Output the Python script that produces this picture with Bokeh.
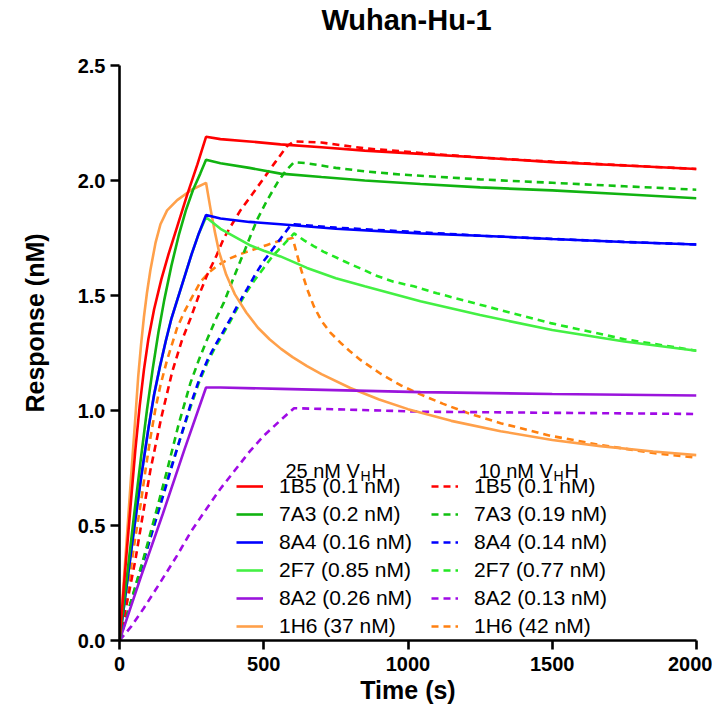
from bokeh.plotting import figure
from bokeh.models import Range1d, FixedTicker, Legend, LegendItem, Label
from bokeh.embed import file_html
from bokeh.resources import INLINE

# ---------------- data ----------------
title_text = "Wuhan-Hu-1"
x_label = "Time (s)"
y_label = "Response (nM)"
x_ticks = [0, 500, 1000, 1500, 2000]
y_ticks = [0.0, 0.5, 1.0, 1.5, 2.0, 2.5]
y_tick_labels = ["0.0", "0.5", "1.0", "1.5", "2.0", "2.5"]

names = ["1B5", "7A3", "8A4", "2F7", "8A2", "1H6"]
kd_25 = ["0.1 nM", "0.2 nM", "0.16 nM", "0.85 nM", "0.26 nM", "37 nM"]
kd_10 = ["0.1 nM", "0.19 nM", "0.14 nM", "0.77 nM", "0.13 nM", "42 nM"]
header_conc = ["25 nM V", "10 nM V"]
header_sub = "H"
header_tail = "H"

# 25 nM VHH (solid)
t_1B5_25 = [0, 20, 40, 55, 70, 85, 100, 120, 145, 170, 200, 235, 270, 300, 350, 450, 558, 700, 850, 1043, 1250, 1500, 1750, 2000]
r_1B5_25 = [0, 0.31, 0.61, 0.83, 1.02, 1.18, 1.31, 1.44, 1.57, 1.68, 1.80, 1.94, 2.07, 2.19, 2.18, 2.17, 2.157, 2.145, 2.13, 2.116, 2.10, 2.08, 2.065, 2.05]

t_7A3_25 = [0, 25, 50, 75, 95, 115, 135, 155, 180, 205, 230, 255, 280, 300, 350, 450, 558, 700, 850, 1043, 1250, 1500, 1750, 2000]
r_7A3_25 = [0, 0.27, 0.54, 0.80, 1.00, 1.18, 1.34, 1.48, 1.63, 1.76, 1.87, 1.96, 2.03, 2.09, 2.075, 2.055, 2.03, 2.015, 2.0, 1.985, 1.97, 1.957, 1.94, 1.923]

t_8A4_25 = [0, 25, 50, 75, 100, 120, 140, 160, 180, 200, 225, 250, 275, 300, 350, 450, 558, 750, 1043, 1250, 1500, 1750, 2000]
r_8A4_25 = [0, 0.24, 0.48, 0.71, 0.92, 1.07, 1.19, 1.30, 1.40, 1.48, 1.58, 1.68, 1.77, 1.85, 1.835, 1.82, 1.81, 1.79, 1.77, 1.76, 1.746, 1.733, 1.722]

t_2F7_25 = [0, 25, 50, 75, 100, 120, 140, 160, 180, 200, 225, 250, 275, 300, 350, 400, 450, 500, 558, 650, 750, 850, 1043, 1250, 1500, 1750, 2000]
r_2F7_25 = [0, 0.24, 0.48, 0.71, 0.92, 1.07, 1.19, 1.30, 1.40, 1.48, 1.58, 1.68, 1.77, 1.84, 1.79, 1.755, 1.72, 1.695, 1.67, 1.62, 1.575, 1.54, 1.475, 1.415, 1.35, 1.30, 1.26]

t_8A2_25 = [0, 75, 150, 225, 300, 350, 558, 1043, 1500, 2000]
r_8A2_25 = [0, 0.28, 0.55, 0.83, 1.10, 1.10, 1.094, 1.08, 1.072, 1.065]

t_1H6_25 = [0, 20, 40, 55, 65, 75, 85, 95, 107, 125, 142, 165, 200, 250, 300, 315, 330, 345, 370, 400, 440, 480, 520, 560, 600, 650, 700, 800, 900, 1000, 1150, 1321, 1500, 1667, 1850, 2000]
r_1H6_25 = [0, 0.35, 0.71, 0.97, 1.15, 1.29, 1.41, 1.51, 1.61, 1.73, 1.81, 1.87, 1.915, 1.96, 1.99, 1.88, 1.78, 1.69, 1.59, 1.505, 1.425, 1.36, 1.31, 1.268, 1.232, 1.193, 1.158, 1.098, 1.048, 1.006, 0.955, 0.91, 0.872, 0.845, 0.822, 0.806]

# 10 nM VHH (dashed)
t_1B5_10 = [0, 30, 55, 80, 107, 145, 183, 215, 246, 275, 304, 335, 362, 390, 419, 460, 500, 540, 581, 605, 700, 850, 1043, 1250, 1500, 1750, 2000]
r_1B5_10 = [0, 0.19, 0.35, 0.54, 0.74, 0.97, 1.17, 1.30, 1.40, 1.50, 1.59, 1.67, 1.75, 1.81, 1.87, 1.94, 2.01, 2.08, 2.15, 2.17, 2.165, 2.14, 2.12, 2.10, 2.082, 2.066, 2.05]

t_7A3_10 = [0, 40, 84, 125, 165, 205, 246, 275, 304, 335, 362, 390, 419, 448, 477, 510, 547, 575, 605, 650, 750, 850, 974, 1250, 1500, 1750, 2000]
r_7A3_10 = [0, 0.17, 0.36, 0.55, 0.74, 0.94, 1.12, 1.22, 1.31, 1.40, 1.47, 1.56, 1.65, 1.74, 1.83, 1.91, 1.99, 2.04, 2.08, 2.075, 2.055, 2.04, 2.026, 2.005, 1.99, 1.975, 1.96]

t_8A4_10 = [0, 40, 73, 107, 142, 175, 211, 245, 275, 305, 330, 358, 385, 415, 443, 470, 500, 530, 560, 590, 605, 750, 1043, 1250, 1500, 1750, 2000]
r_8A4_10 = [0, 0.165, 0.30, 0.445, 0.59, 0.73, 0.88, 1.02, 1.13, 1.22, 1.28, 1.34, 1.40, 1.47, 1.53, 1.59, 1.65, 1.70, 1.75, 1.80, 1.81, 1.795, 1.775, 1.76, 1.746, 1.733, 1.722]

t_2F7_10 = [0, 40, 73, 107, 142, 175, 211, 245, 275, 305, 330, 358, 385, 415, 443, 470, 500, 530, 560, 590, 605, 640, 673, 708, 743, 777, 812, 850, 882, 950, 1020, 1100, 1250, 1494, 1750, 2000]
r_2F7_10 = [0, 0.17, 0.31, 0.45, 0.60, 0.74, 0.88, 1.01, 1.12, 1.21, 1.27, 1.33, 1.39, 1.46, 1.52, 1.57, 1.62, 1.67, 1.71, 1.75, 1.77, 1.74, 1.715, 1.69, 1.67, 1.65, 1.63, 1.61, 1.59, 1.56, 1.54, 1.51, 1.46, 1.38, 1.31, 1.26]

t_8A2_10 = [0, 40, 84, 140, 200, 246, 300, 350, 400, 450, 500, 560, 605, 700, 1043, 1500, 2000]
r_8A2_10 = [0, 0.06, 0.14, 0.25, 0.37, 0.47, 0.57, 0.66, 0.74, 0.82, 0.89, 0.96, 1.01, 1.007, 0.995, 0.99, 0.985]

t_1H6_10 = [0, 20, 38, 55, 73, 90, 107, 125, 142, 165, 200, 225, 246, 281, 310, 339, 380, 419, 465, 512, 560, 600, 615, 630, 650, 673, 700, 730, 766, 801, 835, 905, 974, 1043, 1120, 1205, 1321, 1494, 1667, 1850, 2000]
r_1H6_10 = [0, 0.16, 0.30, 0.45, 0.59, 0.74, 0.88, 1.01, 1.11, 1.22, 1.36, 1.43, 1.48, 1.56, 1.60, 1.63, 1.66, 1.68, 1.70, 1.72, 1.74, 1.75, 1.68, 1.61, 1.53, 1.455, 1.39, 1.34, 1.295, 1.255, 1.22, 1.16, 1.11, 1.07, 1.03, 0.99, 0.945, 0.89, 0.85, 0.815, 0.795]

series_25 = [(t_1B5_25, r_1B5_25), (t_7A3_25, r_7A3_25), (t_8A4_25, r_8A4_25),
             (t_2F7_25, r_2F7_25), (t_8A2_25, r_8A2_25), (t_1H6_25, r_1H6_25)]
series_10 = [(t_1B5_10, r_1B5_10), (t_7A3_10, r_7A3_10), (t_8A4_10, r_8A4_10),
             (t_2F7_10, r_2F7_10), (t_8A2_10, r_8A2_10), (t_1H6_10, r_1H6_10)]

# ---------------- styles ----------------
colors_25 = ["#ff0000", "#11b311", "#0000ff", "#44f044", "#9a14dc", "#ffa04a"]
colors_10 = ["#ff0000", "#11c011", "#0000ff", "#22e822", "#a00ae6", "#ff8010"]
FONT = "Liberation Sans"

# the frame extends above 2.5 so the title can sit inside it; the axis stops at 2.5
p = figure(width=712, height=711, output_backend="svg", toolbar_location=None,
           x_range=Range1d(0, 2000), y_range=Range1d(0, 2.761),
           min_border_left=119, min_border_right=16, min_border_top=5, min_border_bottom=71)
p.outline_line_color = None
p.xgrid.visible = False
p.ygrid.visible = False
p.background_fill_color = "white"
p.border_fill_color = "white"

for ax in (p.xaxis[0], p.yaxis[0]):
    ax.axis_line_width = 2.6
    ax.axis_line_color = "black"
    ax.major_tick_line_width = 2.6
    ax.major_tick_line_color = "black"
    ax.major_tick_out = 9
    ax.major_tick_in = 0
    ax.minor_tick_line_color = None
    ax.major_label_text_font = FONT
    ax.major_label_text_font_style = "bold"
    ax.major_label_text_font_size = "20px"
    ax.major_label_text_color = "black"
    ax.axis_label_text_font = FONT
    ax.axis_label_text_font_style = "bold"
    ax.axis_label_text_font_size = "25px"
    ax.axis_label_text_color = "black"

p.xaxis.ticker = FixedTicker(ticks=x_ticks)
p.yaxis.ticker = FixedTicker(ticks=y_ticks)
p.yaxis.bounds = (0, 2.5)
p.yaxis.major_label_overrides = {v: s for v, s in zip(y_ticks, y_tick_labels)}
p.xaxis.axis_label = x_label
p.yaxis.axis_label = y_label
p.xaxis.major_label_standoff = 7
p.yaxis.major_label_standoff = 5
p.xaxis.axis_label_standoff = 2
p.yaxis.axis_label_standoff = 26

# title
p.add_layout(Label(x=995, y=2.70, text=title_text, text_font=FONT, text_font_size="29px",
                   text_font_style="bold", text_align="center", text_baseline="alphabetic",
                   text_color="black"))

# draw: dashed first, then solid, last series first so earlier ones sit on top
rend_10 = [None] * 6
rend_25 = [None] * 6
for i in reversed(range(6)):
    t, r = series_10[i]
    rend_10[i] = p.line(t, r, line_color=colors_10[i], line_width=2.6, line_dash="7 5")
for i in reversed(range(6)):
    t, r = series_25[i]
    rend_25[i] = p.line(t, r, line_color=colors_25[i], line_width=2.6)

def make_legend(rends, kds, loc):
    items = [LegendItem(label=f"{n} ({k})", renderers=[rr]) for n, k, rr in zip(names, kds, rends)]
    return Legend(items=items, location=loc, orientation="vertical",
                  label_text_font=FONT, label_text_font_size="21px", label_text_color="black",
                  glyph_width=27, glyph_height=26, label_height=26, label_standoff=16,
                  spacing=2, padding=0, margin=0, border_line_color=None,
                  background_fill_alpha=0)

p.add_layout(make_legend(rend_25, kd_25, (117, 1)))
p.add_layout(make_legend(rend_10, kd_10, (312, 1)))

# legend headers "25 nM VHH" / "10 nM VHH" with subscript H
header_x = [575, 1244]
header_y = 0.735
for hx, txt in zip(header_x, header_conc):
    p.add_layout(Label(x=hx, y=header_y, text=txt, text_font=FONT, text_font_size="20px",
                       text_baseline="alphabetic", text_color="black"))
    p.add_layout(Label(x=hx, y=header_y, x_offset=75, y_offset=-5, text=header_sub, text_font=FONT,
                       text_font_size="14px", text_baseline="alphabetic", text_color="black"))
    p.add_layout(Label(x=hx, y=header_y, x_offset=86, text=header_tail, text_font=FONT,
                       text_font_size="20px", text_baseline="alphabetic", text_color="black"))

open("out.html", "w").write(file_html(p, INLINE))
